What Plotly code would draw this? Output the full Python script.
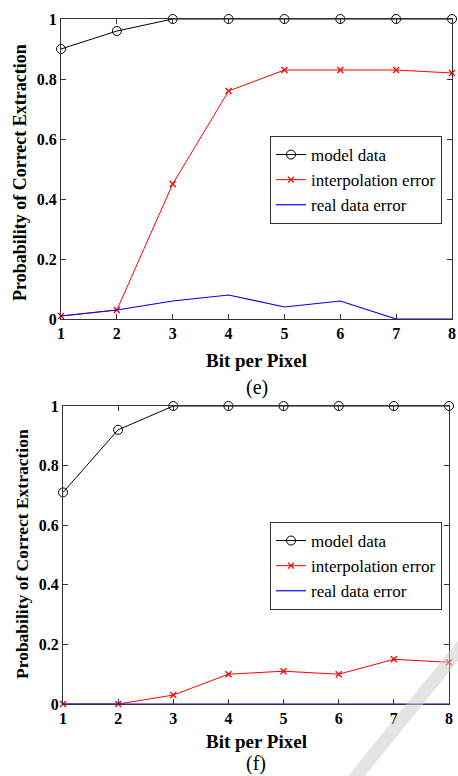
import plotly.graph_objects as go

# Bits per pixel (x axis)
bits = [1, 2, 3, 4, 5, 6, 7, 8]

# Panel (e)
e_model = [0.90, 0.96, 1.00, 1.00, 1.00, 1.00, 1.00, 1.00]
e_interp = [0.01, 0.03, 0.45, 0.76, 0.83, 0.83, 0.83, 0.82]
e_real = [0.01, 0.03, 0.06, 0.08, 0.04, 0.06, 0.00, 0.00]

# Panel (f)
f_model = [0.71, 0.92, 1.00, 1.00, 1.00, 1.00, 1.00, 1.00]
f_interp = [0.00, 0.00, 0.03, 0.10, 0.11, 0.10, 0.15, 0.14]
f_real = [0.00, 0.00, 0.00, 0.00, 0.00, 0.00, 0.00, 0.00]

y_ticks = [0, 0.2, 0.4, 0.6, 0.8, 1]
y_ticktext = ["0", "0.2", "0.4", "0.6", "0.8", "1"]

FONT = "Liberation Serif"
W, H = 458, 776

fig = go.Figure()


def add_panel(model, interp, real, xa, ya, legend):
    fig.add_trace(go.Scatter(
        x=bits, y=model, name="model data", mode="lines+markers",
        line=dict(color="black", width=1),
        marker=dict(symbol="circle-open", size=9, color="black", line=dict(width=1)),
        xaxis=xa, yaxis=ya, legend=legend, cliponaxis=False))
    fig.add_trace(go.Scatter(
        x=bits, y=interp, name="interpolation error", mode="lines+markers",
        line=dict(color="red", width=1),
        marker=dict(symbol="x-thin-open", size=6, color="red", line=dict(width=1.3, color="red")),
        xaxis=xa, yaxis=ya, legend=legend, cliponaxis=False))
    fig.add_trace(go.Scatter(
        x=bits, y=real, name="real data error", mode="lines",
        line=dict(color="blue", width=1.2),
        xaxis=xa, yaxis=ya, legend=legend, cliponaxis=False))


add_panel(e_model, e_interp, e_real, "x", "y", "legend")
add_panel(f_model, f_interp, f_real, "x2", "y2", "legend2")


def px_x(p):
    return p / W


def px_y(p):
    return 1 - p / H


axis_common = dict(
    showline=True, linecolor="#333", linewidth=1, mirror="ticks",
    ticks="inside", ticklen=5, tickcolor="#333", showgrid=False, zeroline=False,
    automargin=False,
    tickfont=dict(family=FONT, size=16, color="black", weight="bold"),
)

top = dict(x0=61, x1=452, y0=19, y1=319)
bot = dict(x0=63, x1=449, y0=406, y1=704)

legend_common = dict(xanchor="left", yanchor="top",
                     bgcolor="white", bordercolor="#333", borderwidth=1,
                     font=dict(family=FONT, size=17, color="black"),
                     tracegroupgap=0, itemwidth=30)

fig.update_layout(
    width=W, height=H,
    margin=dict(l=0, r=0, t=0, b=0, autoexpand=False),
    paper_bgcolor="white", plot_bgcolor="white",
    font=dict(family=FONT, color="black"),
    xaxis=dict(domain=[px_x(top["x0"]), px_x(top["x1"])], range=[1, 8],
               tickvals=bits, anchor="y", **axis_common),
    yaxis=dict(domain=[px_y(top["y1"]), px_y(top["y0"])], range=[0, 1],
               tickvals=y_ticks, ticktext=y_ticktext, anchor="x", **axis_common),
    xaxis2=dict(domain=[px_x(bot["x0"]), px_x(bot["x1"])], range=[1, 8],
                tickvals=bits, anchor="y2", **axis_common),
    yaxis2=dict(domain=[px_y(bot["y1"]), px_y(bot["y0"])], range=[0, 1],
                tickvals=y_ticks, ticktext=y_ticktext, anchor="x2", **axis_common),
    legend=dict(x=px_x(270), y=px_y(136), **legend_common),
    legend2=dict(x=px_x(270), y=px_y(522), **legend_common),
)

annotations = []
panels = [
    (top, "(e)", 360, 387, 20, 173, 18),
    (bot, "(f)", 741, 763, 22, 554, 17.5),
]
for box, tag, xt_y, tag_y, yt_x, yt_y, yt_size in panels:
    cx = (box["x0"] + box["x1"]) / 2
    annotations.append(dict(text="Bit per Pixel", x=px_x(cx), y=px_y(xt_y),
                            xref="paper", yref="paper", showarrow=False,
                            xanchor="center", yanchor="middle",
                            font=dict(family=FONT, size=19, color="black", weight="bold")))
    annotations.append(dict(text=tag, x=px_x(cx), y=px_y(tag_y),
                            xref="paper", yref="paper", showarrow=False,
                            xanchor="center", yanchor="middle",
                            font=dict(family=FONT, size=20, color="black")))
    annotations.append(dict(text="Probability of Correct Extraction", x=px_x(yt_x), y=px_y(yt_y),
                            xref="paper", yref="paper", showarrow=False, textangle=-90,
                            xanchor="center", yanchor="middle",
                            font=dict(family=FONT, size=yt_size, color="black", weight="bold")))
fig.update_layout(annotations=annotations)

# faint diagonal stripe across the lower-right corner
fig.add_shape(type="line", xref="paper", yref="paper",
              x0=px_x(470), y0=px_y(636), x1=px_x(345), y1=px_y(790),
              line=dict(color="rgba(205,205,205,0.55)", width=13), layer="above")

fig.write_html("out.html")
